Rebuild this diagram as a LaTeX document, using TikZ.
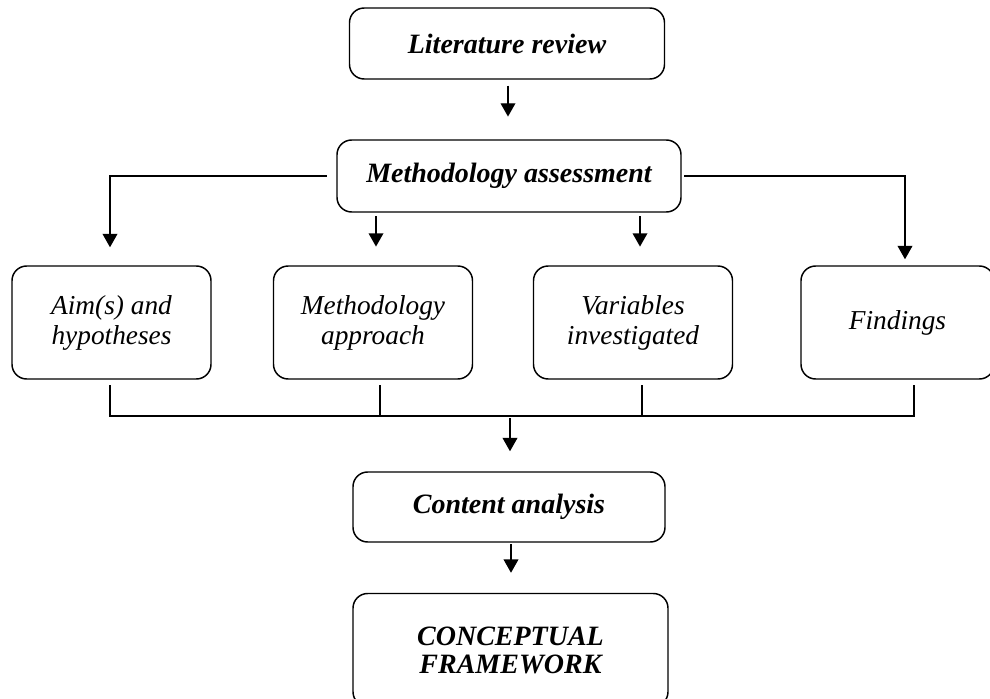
\documentclass[tikz,border=0pt]{standalone}
\usepackage{fontspec}
\setmainfont{Liberation Serif}
\usetikzlibrary{arrows.meta}
\begin{document}
\begin{tikzpicture}[x=0.75pt,y=-0.75pt,
  box/.style={draw, line width=1.1pt, rounded corners=11pt, align=center, inner sep=0pt},
  hbox/.style={box, font=\fontsize{21}{21}\selectfont\bfseries\itshape},
  sbox/.style={box, font=\fontsize{20.5}{22.5}\selectfont\itshape,
     minimum width=199*0.75pt, minimum height=113*0.75pt},
  con/.style={line width=1.1pt},
  arr/.style={con, -{Triangle[width=11pt,length=10pt]}}]
\useasboundingbox (0,0) rectangle (990,699);
\fill[white] (0,0) rectangle (990,699);

\node[hbox, minimum width=315*0.75pt, minimum height=71*0.75pt] (lit) at (507,43.5) {Literature review};
\node[hbox, minimum width=344*0.75pt, minimum height=72*0.75pt] (ma) at (509,176) {Methodology assessment};
\node[sbox] (b1) at (111.5,322.5) {Aim(s) and\\hypotheses};
\node[sbox] (b2) at (373,322.5) {Methodology\\approach};
\node[sbox] (b3) at (633,322.5) {Variables\\investigated};
\node[sbox, minimum width=193*0.75pt] (b4) at (897.5,322.5) {Findings};
\node[hbox, minimum width=312*0.75pt, minimum height=70*0.75pt] (ca) at (509,507) {Content analysis};
\node[hbox, minimum width=315*0.75pt, minimum height=113*0.75pt] (cf) at (510.5,650) {CONCEPTUAL\\FRAMEWORK};

\coordinate (bus) at (510,416);

\draw[arr, shorten <=4.5pt, shorten >=17pt] (lit.south -| 508,0) -- (ma.north -| 508,0);
\draw[arr, shorten <=7pt, shorten >=13.5pt] (ma.west) -| (b1.north -| 110,0);
\draw[arr, shorten <=2pt, shorten >=4.5pt] (ma.east) -| (b4.north -| 905,0);
\draw[arr, shorten <=2.5pt, shorten >=14pt] (ma.south -| 376,0) -- (b2.north -| 376,0);
\draw[arr, shorten <=2.5pt, shorten >=14pt] (ma.south -| 640,0) -- (b3.north -| 640,0);

\draw[con] ([yshift=-4pt]b1.south -| 110,0) -- (bus -| 110,0) -- (bus -| 914,0) -- ([yshift=-4pt]b4.south -| 914,0);
\draw[con] ([yshift=-4pt]b2.south -| 380,0) -- (bus -| 380,0);
\draw[con] ([yshift=-4pt]b3.south -| 642,0) -- (bus -| 642,0);
\draw[arr, shorten <=1.5pt, shorten >=15pt] (bus) -- (ca.north -| bus);
\draw[arr, shorten <=1pt, shorten >=15pt] (ca.south -| 511,0) -- (cf.north -| 511,0);
\end{tikzpicture}
\end{document}
